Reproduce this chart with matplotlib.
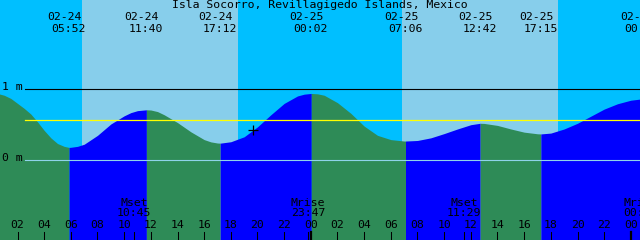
import matplotlib
matplotlib.use("Agg")
import matplotlib.pyplot as plt
from matplotlib.transforms import blended_transform_factory

# ---------------- data (hours counted from 02-24 00:00) ----------------
title = "Isla Socorro, Revillagigedo Islands, Mexico"

curve_hours = [0, 0.5, 1, 1.5, 2, 2.5, 3, 3.5, 4, 4.5, 5, 5.5, 5.867, 6, 6.5, 7,
               8, 9, 10, 10.5, 11, 11.667, 12, 12.5, 13, 14, 15, 16, 16.5, 17,
               17.2, 18, 19, 20, 21, 22, 23, 23.5, 24, 24.033, 24.5, 25, 26, 27,
               28, 29, 30, 31, 31.1, 32, 33, 34, 35, 36, 36.7, 37, 38, 39, 40,
               41, 41.25, 42, 43, 44, 45, 46, 47, 48, 48.867, 49]
curve_heights = [0.945, 0.93, 0.905, 0.86, 0.79, 0.72, 0.64, 0.53, 0.41, 0.305,
                 0.225, 0.185, 0.17, 0.172, 0.185, 0.215, 0.34, 0.50, 0.615,
                 0.66, 0.688, 0.70, 0.697, 0.675, 0.63, 0.52, 0.39, 0.28, 0.248,
                 0.232, 0.23, 0.25, 0.32, 0.46, 0.63, 0.79, 0.895, 0.92, 0.93,
                 0.93, 0.925, 0.905, 0.80, 0.65, 0.47, 0.34, 0.28, 0.26, 0.26,
                 0.268, 0.305, 0.365, 0.43, 0.49, 0.51, 0.508, 0.48, 0.43, 0.385,
                 0.362, 0.36, 0.372, 0.43, 0.51, 0.61, 0.71, 0.785, 0.835, 0.855,
                 0.855]

extreme_hours = [5.867, 11.667, 17.2, 24.033, 31.1, 36.7, 41.25, 48.867]
extreme_dates = ["02-24", "02-24", "02-24", "02-25", "02-25", "02-25", "02-25", "02-26"]
extreme_times = ["05:52", "11:40", "17:12", "00:02", "07:06", "12:42", "17:15", "00:52"]

moon_hours = [10.75, 23.783, 35.483, 48.72]
moon_events = ["Mset", "Mrise", "Mset", "Mrise"]
moon_times = ["10:45", "23:47", "11:29", "00:43"]

sunrise_hours = [6.83, 30.83]
sunset_hours = [18.53, 42.53]

tick_hours = list(range(2, 49, 2))
tick_labels = ["%02d" % (h % 24) for h in tick_hours]

mean_level = 0.55
marker_hour = 19.69
marker_height = 0.42

# ---------------- styling ----------------
NIGHT = "#00BFFF"
DAY = "#87CEEB"
RISE = "#0000FF"
FALL = "#2E8B57"
FONT = "DejaVu Sans Mono"
FS = 8.25

W, H = 640, 240
fig = plt.figure(figsize=(W / 100, H / 100), dpi=100)
ax = fig.add_axes([0, 0, 1, 1])
x0, x1 = 0.6875, 48.6875
ax.set_xlim(x0, x1)
ax.set_ylim((159.5 - 240) / 71.0, 159.5 / 71.0)
ax.axis("off")
ax.set_facecolor(NIGHT)
fig.patch.set_facecolor(NIGHT)
ymin, ymax = ax.get_ylim()

# sky background
ax.axvspan(-5, 60, color=NIGHT, lw=0, zorder=0)
for sr, ss in zip(sunrise_hours, sunset_hours):
    ax.axvspan(sr, ss, color=DAY, lw=0, zorder=1)

# tide fill by segments (rising blue, falling green)
bounds = [curve_hours[0]] + extreme_hours
if bounds[-1] < curve_hours[-1]:
    bounds.append(curve_hours[-1])
for a, b in zip(bounds[:-1], bounds[1:]):
    xs = [h for h in curve_hours if a <= h <= b]
    ys = [curve_heights[curve_hours.index(h)] for h in xs]
    col = RISE if ys[-1] > ys[0] else FALL
    ax.fill_between(xs, ys, ymin, color=col, lw=0, zorder=2)

# reference lines
px = (x1 - x0) / W  # hours per pixel
line_start = x0 + 25 * px
ax.plot([line_start, x1], [1, 1], color="black", lw=0.8, zorder=4)
ax.plot([line_start, x1], [0, 0], color="#8FD3EA", lw=0.8, zorder=4)
ax.plot([line_start, x1], [mean_level, mean_level], color="#FFFF00", lw=0.9, zorder=5)

ax.plot([marker_hour], [marker_height], marker="+", color="black",
        markersize=7, mew=0.9, zorder=6)

# text helpers
tr = blended_transform_factory(ax.transData, fig.transFigure)


def fy(py):
    return 1 - py / H


fig.text(0.5, fy(5.5), title, ha="center", va="center", family=FONT, fontsize=FS)
for h, d, t in zip(extreme_hours, extreme_dates, extreme_times):
    ax.text(h - 4.5 * px, fy(17), d, transform=tr, ha="center", va="center",
            family=FONT, fontsize=FS, zorder=7)
    ax.text(h - 0.5 * px, fy(29.5), t, transform=tr, ha="center", va="center",
            family=FONT, fontsize=FS, zorder=7)

fig.text(2 / W, fy(87.5), "1 m", ha="left", va="center", family=FONT, fontsize=FS)
fig.text(2 / W, fy(158), "0 m", ha="left", va="center", family=FONT, fontsize=FS)

for h, e, t in zip(moon_hours, moon_events, moon_times):
    ax.text(h, fy(202.5), e, transform=tr, ha="center", va="center",
            family=FONT, fontsize=FS, zorder=7)
    ax.text(h, fy(213.5), t, transform=tr, ha="center", va="center",
            family=FONT, fontsize=FS, zorder=7)
    ax.plot([h, h], [fy(232), 0], transform=tr, color="black", lw=0.75, zorder=7)

for h, lab in zip(tick_hours, tick_labels):
    ax.text(h, fy(225.5), lab, transform=tr, ha="center", va="center",
            family=FONT, fontsize=FS, zorder=7)
    lw = 1.6 if h % 24 == 0 else 0.75
    ax.plot([h, h], [fy(232), 0], transform=tr, color="black", lw=lw, zorder=7)

fig.savefig("out.png", dpi=100, facecolor=fig.get_facecolor())
